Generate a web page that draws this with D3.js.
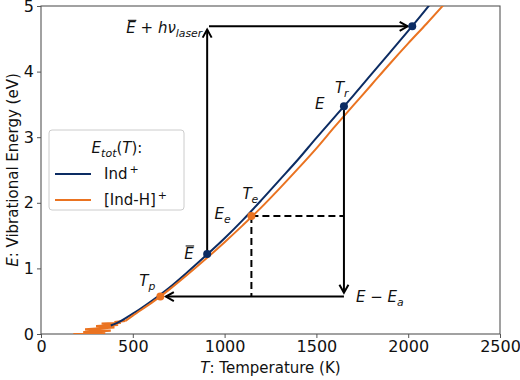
<!DOCTYPE html>
<html>
<head>
<meta charset="utf-8">
<script src="https://cdn.jsdelivr.net/npm/d3@7"></script>
<style>
  body { margin: 0; background: #fff; }
  text { font-family: "DejaVu Sans", sans-serif; }
</style>
</head>
<body>
<script>
// temperature (K) / vibrational energy (eV)
const tempTicks = [0, 500, 1000, 1500, 2000, 2500];
const energyTicks = [0, 1, 2, 3, 4, 5];

const indT = [380, 400, 500, 600, 700, 800, 900, 1000, 1100, 1200, 1300, 1400, 1500, 1600, 1700, 1800, 1900, 2000, 2100, 2120];
const indE = [0.13, 0.15, 0.31, 0.5, 0.71, 0.95, 1.2, 1.46, 1.74, 2.04, 2.35, 2.66, 2.99, 3.31, 3.63, 3.96, 4.29, 4.62, 4.96, 5.03];

// noisy low-temperature part of [Ind-H]+
const indHNoiseT = [176, 350, 230, 380, 240, 400, 300, 420, 330, 435, 400, 460];
const indHNoiseE = [0.0, 0.01, 0.03, 0.05, 0.07, 0.1, 0.12, 0.14, 0.16, 0.17, 0.18, 0.2];
const indHT = [460, 500, 600, 700, 800, 900, 1000, 1100, 1200, 1300, 1400, 1500, 1600, 1700, 1800, 1900, 2000, 2100, 2200];
const indHE = [0.2, 0.28, 0.47, 0.68, 0.91, 1.15, 1.4, 1.66, 1.93, 2.22, 2.52, 2.83, 3.16, 3.48, 3.8, 4.12, 4.43, 4.73, 5.04];

// marked states: E-bar, E (T_r), E-bar + h nu
const indMarkT = [905, 1650, 2022];
const indMarkE = [1.22, 3.47, 4.69];
// marked states: T_p, T_e
const indHMarkT = [650, 1146];
const indHMarkE = [0.57, 1.8];

const blue = "#0c2c63", orange = "#ea7321";

const svg = d3.select("body").append("svg")
    .attr("width", 520)
    .attr("height", 380);

const margin = {top: 6, right: 20, bottom: 46, left: 41},
      width = 520 - margin.left - margin.right,
      height = 380 - margin.top - margin.bottom;

const g = svg.append("g").attr("transform", `translate(${margin.left},${margin.top})`);

const x = d3.scaleLinear().domain([0, 2500]).range([0, width]);
const y = d3.scaleLinear().domain([0, 5]).range([height, 0]);

g.append("defs").append("clipPath").attr("id", "clip")
  .append("rect").attr("width", width).attr("height", height);

// axes
const xAxis = g.append("g")
    .attr("transform", `translate(0,${height})`)
    .call(d3.axisBottom(x).tickValues(tempTicks).tickFormat(d3.format("d")).tickSize(4).tickPadding(3));
const yAxis = g.append("g")
    .call(d3.axisLeft(y).tickValues(energyTicks).tickFormat(d3.format("d")).tickSize(4).tickPadding(3));
[xAxis, yAxis].forEach(a => {
  a.select(".domain").remove();
  a.selectAll(".tick line").attr("stroke", "#555").attr("stroke-width", 1);
  a.selectAll(".tick text").attr("font-size", 16).attr("fill", "#111")
    .attr("font-family", "DejaVu Sans");
});

// frame
g.append("rect").attr("width", width).attr("height", height)
  .attr("fill", "none").attr("stroke", "#555").attr("stroke-width", 1.1);

// mathtext-ish label helper
function mathLabel(px, py, parts, anchor, size) {
  size = size || 15;
  const t = g.append("text").attr("x", px).attr("y", py)
    .attr("font-size", size).attr("fill", "#111").attr("text-anchor", anchor || "start");
  let shift = 0;
  const over = [];
  let idx = 0;
  parts.forEach(p => {
    let target = p.sub ? 4 : (p.sup ? -6 : 0);
    t.append("tspan").text(p.t)
      .attr("dy", target - shift)
      .attr("font-size", (p.sub || p.sup) ? size * 0.72 : size)
      .attr("font-style", p.it ? "italic" : "normal");
    shift = target;
    if (p.over) over.push(idx);
    idx += p.t.length;
  });
  over.forEach(i => {
    const b = t.node().getExtentOfChar(i);
    g.append("line")
      .attr("x1", b.x + 1.5).attr("x2", b.x + b.width + 0.5)
      .attr("y1", b.y + 1).attr("y2", b.y + 1)
      .attr("stroke", "#111").attr("stroke-width", 1.1);
  });
  return t;
}

// axis labels
mathLabel(width / 2, height + 39, [{t: "T", it: true}, {t: ": Temperature (K)"}], "middle");
const yl = svg.append("g").attr("transform", `translate(18,${margin.top + height / 2}) rotate(-90)`);
const ylt = yl.append("text").attr("text-anchor", "middle").attr("font-size", 15).attr("fill", "#111");
ylt.append("tspan").attr("font-style", "italic").text("E");
ylt.append("tspan").text(": Vibrational Energy (eV)");

// curves
const plot = g.append("g").attr("clip-path", "url(#clip)");
const smooth = d3.line().x(d => x(d[0])).y(d => y(d[1])).curve(d3.curveMonotoneX);
const straight = d3.line().x(d => x(d[0])).y(d => y(d[1]));

plot.append("path")
  .datum(indHNoiseT.map((t, i) => [t, indHNoiseE[i]]))
  .attr("fill", "none").attr("stroke", orange).attr("stroke-width", 2.2)
  .attr("d", straight);
plot.append("path")
  .datum(indT.map((t, i) => [t, indE[i]]))
  .attr("fill", "none").attr("stroke", blue).attr("stroke-width", 2)
  .attr("d", smooth);
plot.append("path")
  .datum(indHT.map((t, i) => [t, indHE[i]]))
  .attr("fill", "none").attr("stroke", orange).attr("stroke-width", 2)
  .attr("d", smooth);

// arrows
function arrowHead(px, py, dir) {
  const L = 8, W = 4.5;
  const ang = {up: -Math.PI / 2, down: Math.PI / 2, left: Math.PI, right: 0}[dir];
  const c = Math.cos(ang), s = Math.sin(ang);
  const p1 = [px - L * c - W * s, py - L * s + W * c];
  const p2 = [px - L * c + W * s, py - L * s - W * c];
  g.append("path")
    .attr("d", `M${p1[0]},${p1[1]}L${px},${py}L${p2[0]},${p2[1]}`)
    .attr("fill", "none").attr("stroke", "#000").attr("stroke-width", 2)
    .attr("stroke-linejoin", "miter");
}
function seg(t1, e1, t2, e2, dashed) {
  g.append("line")
    .attr("x1", x(t1)).attr("y1", y(e1)).attr("x2", x(t2)).attr("y2", y(e2))
    .attr("stroke", "#000").attr("stroke-width", 2)
    .attr("stroke-dasharray", dashed ? "7,4" : null);
}

const [tBar, tR, tHot] = indMarkT;
const [eBar, eR, eHot] = indMarkE;
const [tP, tE] = indHMarkT;
const [eP, eE] = indHMarkE;

// E-bar -> E-bar + h nu (up)
seg(tBar, eBar, tBar, eHot - 0.05);
arrowHead(x(tBar), y(eHot - 0.05), "up");
// across to the hot state
seg(tBar + 10, eHot, tHot - 25, eHot);
arrowHead(x(tHot - 25), y(eHot), "right");
// T_r down by E_a
seg(tR, eR, tR, eP + 0.06);
arrowHead(x(tR), y(eP + 0.06), "down");
// back to T_p
seg(tR, eP, tP + 30, eP);
arrowHead(x(tP + 30), y(eP), "left");
// dashed guides through T_e
seg(tE, eE, tR, eE, true);
seg(tE, eE, tE, eP, true);

// marker dots
g.selectAll(".dotb").data(indMarkT).join("circle")
  .attr("cx", d => x(d)).attr("cy", (d, i) => y(indMarkE[i]))
  .attr("r", 4).attr("fill", blue);
g.selectAll(".doto").data(indHMarkT).join("circle")
  .attr("cx", d => x(d)).attr("cy", (d, i) => y(indHMarkE[i]))
  .attr("r", 4).attr("fill", orange);

// annotations
mathLabel(x(tBar) - 5, y(eHot) + 7, [{t: "E", it: true, over: true}, {t: " + "}, {t: "hν", it: true}, {t: "laser", it: true, sub: true}], "end");
mathLabel(x(tR) - 29, y(eR) + 3, [{t: "E", it: true}], "start");
mathLabel(x(tR) - 9, y(eR) - 13, [{t: "T", it: true}, {t: "r", it: true, sub: true}], "start");
mathLabel(x(tE) - 9, y(eE) - 17, [{t: "T", it: true}, {t: "e", it: true, sub: true}], "start");
mathLabel(x(tE) - 37, y(eE) + 3, [{t: "E", it: true}, {t: "e", it: true, sub: true}], "start");
mathLabel(x(tBar) - 23, y(eBar) + 5, [{t: "E", it: true, over: true}], "start");
mathLabel(x(tP) - 21, y(eP) - 11, [{t: "T", it: true}, {t: "p", it: true, sub: true}], "start");
mathLabel(x(tR) + 12, y(eP) + 5, [{t: "E", it: true}, {t: " − "}, {t: "E", it: true}, {t: "a", it: true, sub: true}], "start");

// legend
const lg = g.append("g").attr("transform", "translate(8,124)");
lg.append("rect").attr("width", 135).attr("height", 80).attr("rx", 3)
  .attr("fill", "#fff").attr("stroke", "#ccc").attr("stroke-width", 1);
const lt = lg.append("text").attr("x", 68).attr("y", 23).attr("text-anchor", "middle")
  .attr("font-size", 15).attr("fill", "#111");
lt.append("tspan").attr("font-style", "italic").text("E");
lt.append("tspan").attr("font-style", "italic").attr("font-size", 11).attr("dy", 4).text("tot");
lt.append("tspan").attr("dy", -4).text("(");
lt.append("tspan").attr("font-style", "italic").text("T");
lt.append("tspan").text("):");
const entries = [{name: "Ind", c: blue}, {name: "[Ind-H]", c: orange}];
entries.forEach((e, i) => {
  const yy = 44 + i * 26;
  lg.append("line").attr("x1", 6).attr("x2", 42).attr("y1", yy).attr("y2", yy)
    .attr("stroke", e.c).attr("stroke-width", 2);
  const tt = lg.append("text").attr("x", 55).attr("y", yy + 5).attr("font-size", 15).attr("fill", "#111");
  tt.append("tspan").text(e.name);
  tt.append("tspan").attr("font-size", 11).attr("dy", -6).attr("dx", 2).text("+");
});
</script>
</body>
</html>
